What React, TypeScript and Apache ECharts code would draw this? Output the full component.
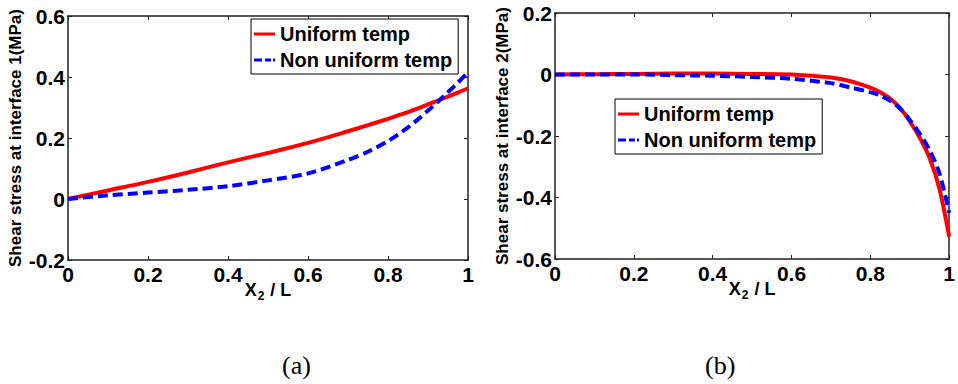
import React, { useEffect, useRef } from "react";
import * as echarts from "echarts";

const xPos = [0, 0.1, 0.2, 0.3, 0.4, 0.5, 0.6, 0.7, 0.75, 0.8, 0.825, 0.85, 0.875, 0.9, 0.925, 0.95, 0.975, 1];
const leftUniform = [0, 0.028, 0.056, 0.087, 0.12, 0.151, 0.184, 0.222, 0.242, 0.263, 0.274, 0.285, 0.297, 0.31, 0.323, 0.336, 0.349, 0.363];
const leftNonUniform = [0, 0.012, 0.021, 0.03, 0.042, 0.061, 0.084, 0.128, 0.155, 0.19, 0.211, 0.235, 0.261, 0.29, 0.319, 0.35, 0.382, 0.415];
const rightUniform = [0, 0.001, 0.002, 0.003, 0.003, 0.002, 0, -0.01, -0.022, -0.043, -0.058, -0.078, -0.108, -0.152, -0.205, -0.27, -0.37, -0.527];
const rightNonUniform = [0, 0, 0, -0.002, -0.004, -0.008, -0.014, -0.028, -0.042, -0.058, -0.068, -0.085, -0.11, -0.148, -0.192, -0.245, -0.32, -0.45];
const seriesNames = ["Uniform temp", "Non uniform temp"];
const yNames = ["Shear stress at interface 1(MPa)", "Shear stress at interface 2(MPa)"];
const captions = ["(a)", "(b)"];

const FONT = "Liberation Sans";

const pairs = (ys: number[]) => xPos.map((x, i) => [x, ys[i]]);

export default function App() {
  const ref = useRef<HTMLDivElement>(null);
  useEffect(() => {
    const chart = echarts.init(ref.current!, null, { renderer: "svg" });
    const grids = [
      { left: 68, top: 16, width: 400, height: 244 },
      { left: 555, top: 13, width: 396, height: 246 },
    ];
    const yRanges = [
      [-0.2, 0.6],
      [-0.6, 0.2],
    ];
    const axisLine = { show: true, onZero: false, lineStyle: { color: "#222", width: 1.5 } };
    const tick = { show: true, inside: true, length: 4, lineStyle: { color: "#222", width: 1 } };
    const labelStyle = { fontFamily: FONT, fontWeight: "bold" as const, fontSize: 21, color: "#000" };
    const xAxes: any[] = [];
    const yAxes: any[] = [];
    [0, 1].forEach((g) => {
      xAxes.push({
        type: "value", gridIndex: g, min: 0, max: 1, interval: 0.2, position: "bottom",
        axisLine, axisTick: tick, splitLine: { show: false },
        axisLabel: { ...labelStyle, margin: 4 },
        name: "{a|X}{s|2}{a| / L}", nameLocation: "middle", nameGap: 20, nameMoveOverlap: false,
        nameTextStyle: {
          rich: {
            a: { fontFamily: FONT, fontWeight: "bold", fontSize: 18, color: "#000", lineHeight: 20 },
            s: { fontFamily: FONT, fontWeight: "bold", fontSize: 12, color: "#000", lineHeight: 20, padding: [12, 1, 0, 1] },
          },
        },
      });
      xAxes.push({
        type: "value", gridIndex: g, min: 0, max: 1, interval: 0.2, position: "top",
        axisLine, axisTick: tick, splitLine: { show: false }, axisLabel: { show: false },
      });
      yAxes.push({
        type: "value", gridIndex: g, min: yRanges[g][0], max: yRanges[g][1], interval: 0.2, position: "left",
        axisLine, axisTick: tick, splitLine: { show: false },
        axisLabel: { ...labelStyle, margin: 3 },
        name: yNames[g], nameLocation: "middle", nameGap: 44, nameRotate: 90, nameMoveOverlap: false,
        nameTextStyle: { fontFamily: FONT, fontWeight: "bold", fontSize: 17, color: "#000" },
      });
      yAxes.push({
        type: "value", gridIndex: g, min: yRanges[g][0], max: yRanges[g][1], interval: 0.2, position: "right",
        axisLine, axisTick: tick, splitLine: { show: false }, axisLabel: { show: false },
      });
    });
    const data = [
      [leftUniform, leftNonUniform],
      [rightUniform, rightNonUniform],
    ];
    const series: any[] = [];
    [0, 1].forEach((g) => {
      series.push({
        type: "line", name: seriesNames[0], xAxisIndex: g * 2, yAxisIndex: g * 2,
        data: pairs(data[g][0]), smooth: 0.3, showSymbol: false, symbol: "none",
        lineStyle: { color: "#ff0000", width: 4 }, itemStyle: { color: "#ff0000" }, z: 2,
      });
      series.push({
        type: "line", name: seriesNames[1], xAxisIndex: g * 2, yAxisIndex: g * 2,
        data: pairs(data[g][1]), smooth: 0.3, showSymbol: false, symbol: "none",
        lineStyle: { color: "#0000ff", width: 4, type: [10, 5] }, itemStyle: { color: "#0000ff" }, z: 3,
      });
    });
    const legendBase = {
      orient: "vertical",
      data: [
        { name: seriesNames[0], icon: "path://M0,0h21v3h-21z" },
        { name: seriesNames[1], icon: "path://M0,0h8v3h-8zM11,0h6v3h-6zM19,0h2v3h-2z" },
      ],
      selectedMode: false,
      backgroundColor: "#fff", borderColor: "#000", borderWidth: 1,
      padding: [4, 6, 3, 3], itemWidth: 21, itemHeight: 3, itemGap: 4,
      textStyle: { fontFamily: FONT, fontWeight: "bold", fontSize: 20, color: "#000", lineHeight: 22 },
    };
    chart.setOption({
      animation: false,
      grid: grids,
      xAxis: xAxes,
      yAxis: yAxes,
      series,
      legend: [
        { ...legendBase, left: 251, top: 19 },
        { ...legendBase, left: 615, top: 99 },
      ],
      graphic: [
        { type: "text", left: 282, top: 352, style: { text: captions[0], font: "26px 'Liberation Serif'", fill: "#000" } },
        { type: "text", left: 705, top: 352, style: { text: captions[1], font: "26px 'Liberation Serif'", fill: "#000" } },
      ],
    });
    return () => chart.dispose();
  }, []);
  return <div ref={ref} style={{ position: "fixed", left: 0, top: 0, width: 958, height: 384, background: "#fff" }} />;
}
